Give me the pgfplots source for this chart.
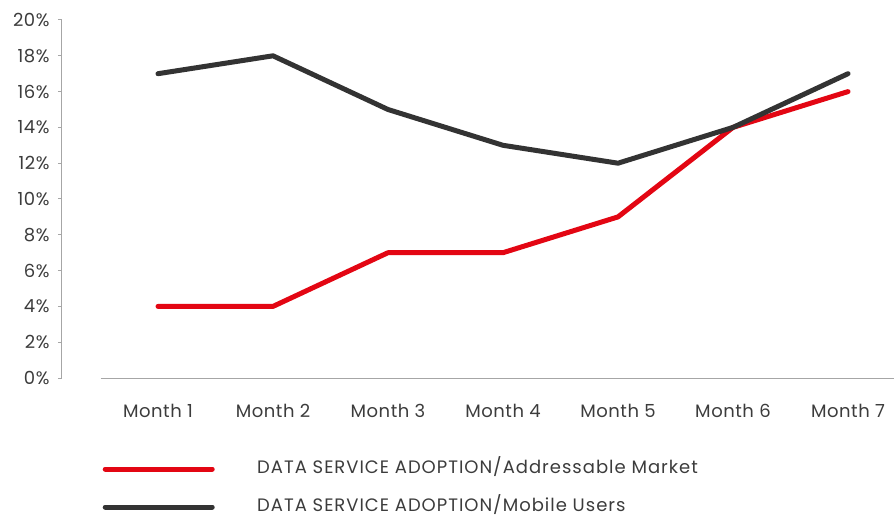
\documentclass[border=0pt]{standalone}
\usepackage{pgfplots}
\pgfplotsset{compat=1.18}
\usepackage{fontspec}
\setmainfont[LetterSpace=3]{Poppins}
\newfontfamily\legfont[LetterSpace=5.5]{Poppins}
\definecolor{cred}{HTML}{E30613}
\definecolor{cdark}{HTML}{333333}
\definecolor{cgray}{HTML}{A6A6A6}
\definecolor{ctext}{HTML}{3C3C3C}
\begin{document}
\begin{tikzpicture}
\path[use as bounding box] (-62pt,-138pt) rectangle (832pt,378pt);
\begin{axis}[
  at={(0,0)}, anchor=south west,
  scale only axis, width=832pt, height=358pt,
  xmin=-0.8348, xmax=6.4, ymin=0, ymax=20,
  axis x line=bottom, axis y line=left,
  x axis line style={draw=none},
  y axis line style={-, cgray, line width=1pt},
  clip=false,
  tick align=outside,
  ytick={0,2,...,20},
  yticklabel={\pgfmathprintnumber{\tick}\%},
  yticklabel style={font=\fontsize{18}{21}\selectfont, text=ctext, xshift=-5pt},
  y tick style={cgray, line width=1pt},
  major tick length=4pt,
  xtick={0,...,6},
  xticklabels={Month 1,Month 2,Month 3,Month 4,Month 5,Month 6,Month 7},
  x tick style={draw=none},
  xticklabel style={font=\fontsize{18}{21}\selectfont, text=ctext, yshift=-19pt},
  extra x ticks={-0.5,0.5,1.5,2.5,3.5,4.5,5.5},
  extra x tick labels={},
  extra x tick style={tick style={draw=cgray, line width=1pt}, major tick length=6pt},
  /pgf/number format/assume math mode=true,
  legend cell align=left,
  legend style={at={(0.0457,-0.3073)}, anchor=west, draw=none, fill=none, inner sep=0pt,
    font=\legfont\fontsize{18}{21}\selectfont, text=ctext, row sep=22pt,
    nodes={inner xsep=0pt, inner ysep=0pt, text height=12pt, text depth=4pt}},
  legend image code/.code={\path (0pt,0pt); \draw[#1] (2.5pt,0pt) -- (109.5pt,0pt); \path (152pt,0pt);},
]
\draw[cgray, line width=1pt] (axis cs:-0.5,0) -- (axis cs:6.4,0);
\addplot[cred, line width=5pt, line cap=round, line join=round] coordinates {(0,4) (1,4) (2,7) (3,7) (4,9) (5,14) (6,16)};
\addlegendentry{DATA SERVICE ADOPTION/Addressable Market}
\addplot[cdark, line width=5pt, line cap=round, line join=round] coordinates {(0,17) (1,18) (2,15) (3,13) (4,12) (5,14) (6,17)};
\addlegendentry{DATA SERVICE ADOPTION/Mobile Users}
\end{axis}
\end{tikzpicture}
\end{document}
